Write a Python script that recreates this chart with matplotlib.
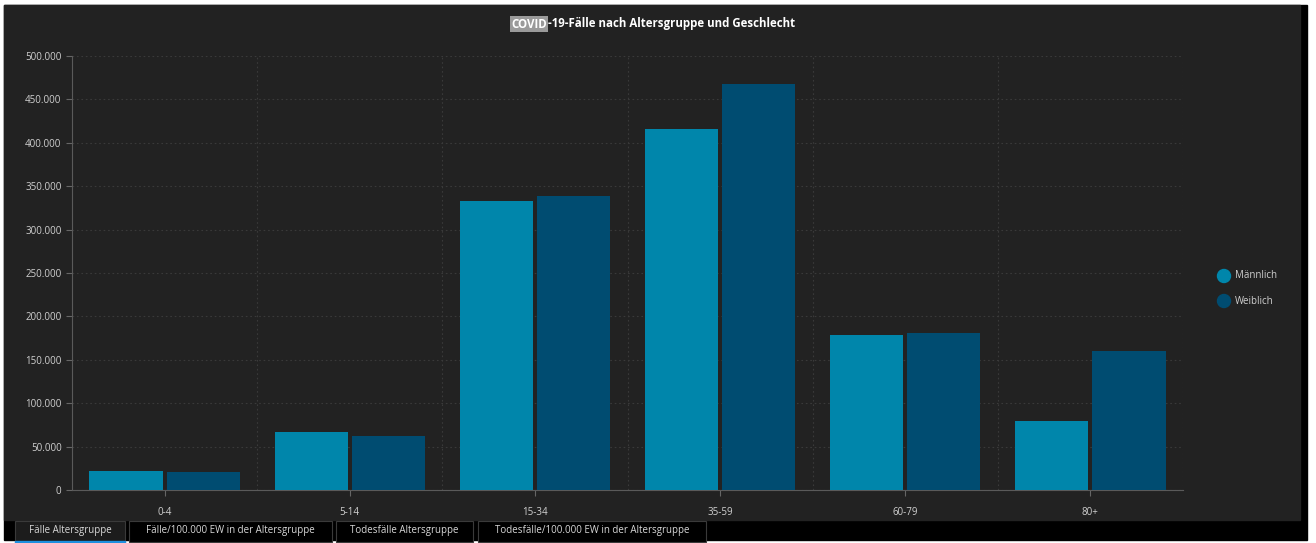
import matplotlib.pyplot as plt
import matplotlib.patches as mpatches
from matplotlib.ticker import FuncFormatter, FixedLocator
import numpy as np

# data
age_groups = ["0-4", "5-14", "15-34", "35-59", "60-79", "80+"]
maennlich = [21500, 67000, 333000, 416000, 178500, 79500]
weiblich = [20400, 62200, 338500, 468000, 181000, 160500]
series_names = ["Männlich", "Weiblich"]
tab_labels = ["Fälle Altersgruppe", "Fälle/100.000 EW in der Altersgruppe",
              "Todesfälle Altersgruppe", "Todesfälle/100.000 EW in der Altersgruppe"]

W, H = 1316, 543
BG = "#222222"
C_M = "#0086ab"
C_W = "#004c71"
TXT = "#d0d0d0"
plt.rcParams["font.family"] = ["Open Sans", "DejaVu Sans"]


def fx(x):
    return x / W


def fy(y):
    return 1 - y / H


fig = plt.figure(figsize=(W / 100, H / 100), dpi=100, facecolor="white")

# outer frame: black strip + dark panel
fig.add_artist(mpatches.Rectangle((fx(4), fy(540)), fx(1307 - 4), (540 - 5) / H,
                                  transform=fig.transFigure, color="black", zorder=0))
fig.add_artist(mpatches.Rectangle((fx(4), fy(520)), fx(1300 - 4), (520 - 5) / H,
                                  transform=fig.transFigure, color=BG, zorder=0))

ax = fig.add_axes([fx(72), fy(490), fx(1183 - 72), (490 - 56) / H])
ax.set_facecolor("none")

x = np.arange(len(age_groups))
bw = 0.395
ax.bar(x - bw / 2 - 0.011, maennlich, bw, color=C_M, zorder=3)
ax.bar(x + bw / 2 + 0.011, weiblich, bw, color=C_W, zorder=3)

ax.set_xlim(-0.5, len(age_groups) - 0.5)
ax.set_ylim(0, 500000)
ax.set_yticks(np.arange(0, 500001, 50000))
ax.yaxis.set_major_formatter(FuncFormatter(lambda v, p: f"{int(v):,}".replace(",", ".")))
ax.set_xticks(x)
ax.set_xticklabels(age_groups)
ax.xaxis.set_minor_locator(FixedLocator(np.arange(0.5, len(age_groups), 1.0)))

grid_style = dict(color="#3a3a3a", linestyle=(0, (1.5, 2.5)), linewidth=0.8, zorder=0)
ax.grid(axis="y", which="major", **grid_style)
ax.grid(axis="x", which="minor", **grid_style)
ax.tick_params(axis="both", which="major", colors="#666666", labelcolor=TXT, labelsize=7, length=4)
ax.tick_params(axis="x", which="minor", length=0)
ax.tick_params(axis="x", pad=8)
for s in ["top", "right"]:
    ax.spines[s].set_visible(False)
for s in ["left", "bottom"]:
    ax.spines[s].set_color("#5a5a5a")

# title, with the selected "COVID" part
t1 = fig.text(fx(511), fy(24), "COVID", color="white", fontsize=8.3, fontweight="bold",
              ha="left", va="center",
              bbox=dict(boxstyle="square,pad=0.1", facecolor="#9a9a9a", edgecolor="none"))
ax.annotate("-19-Fälle nach Altersgruppe und Geschlecht", xy=(1, 0), xycoords=t1,
            xytext=(1.2, 0), textcoords="offset points", color="white", fontsize=8.3,
            fontweight="bold", ha="left", va="bottom", annotation_clip=False)

# legend
for i, (name, col) in enumerate(zip(series_names, [C_M, C_W])):
    yy = 276 + i * 25
    fig.add_artist(mpatches.Ellipse((fx(1224), fy(yy)), 13 / W, 13 / H,
                                    transform=fig.transFigure, color=col))
    fig.text(fx(1235), fy(yy), name, color=TXT, fontsize=7, ha="left", va="center")

# tabs at the bottom
tab_x = [(15, 125), (129, 332), (336, 473), (478, 706)]
for i, ((x0, x1), lab) in enumerate(zip(tab_x, tab_labels)):
    fig.add_artist(mpatches.Rectangle((fx(x0), fy(542)), fx(x1 - x0), 21 / H,
                                      transform=fig.transFigure,
                                      facecolor="#1c1c1c" if i == 0 else "black",
                                      edgecolor="#3a3a3a", linewidth=0.8))
    fig.text(fx((x0 + x1) / 2), fy(531), lab, color="#d8d8d8", fontsize=7,
             ha="center", va="center")
fig.add_artist(mpatches.Rectangle((fx(15), fy(543)), fx(110), 2 / H,
                                  transform=fig.transFigure, color="#1e90e0"))

fig.savefig("out.png", dpi=100, facecolor="white")
